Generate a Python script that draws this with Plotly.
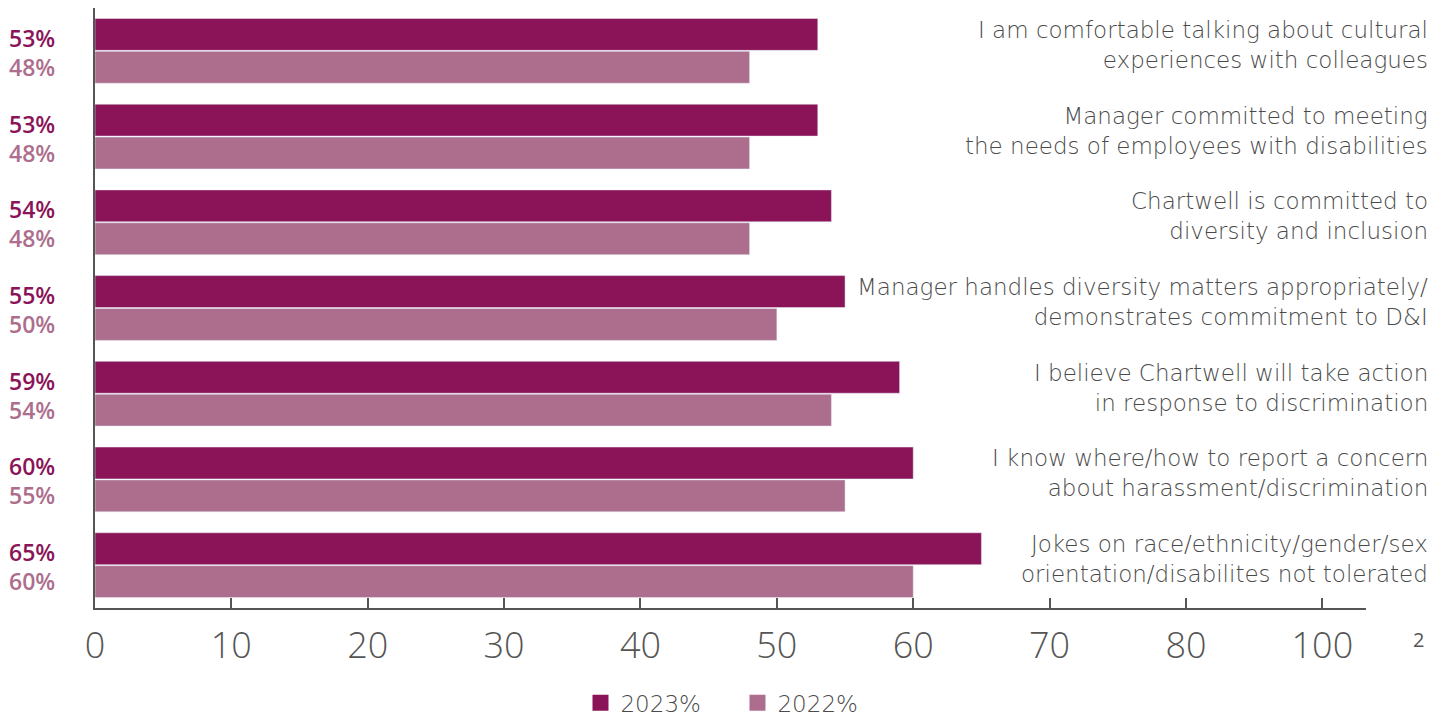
import plotly.graph_objects as go

categories = [
    "I am comfortable talking about cultural<br>experiences with colleagues",
    "Manager committed to meeting<br>the needs of employees with disabilities",
    "Chartwell is committed to<br>diversity and inclusion",
    "Manager handles diversity matters appropriately/<br>demonstrates commitment to D&I",
    "I believe Chartwell will take action<br>in response to discrimination",
    "I know where/how to report a concern<br>about harassment/discrimination",
    "Jokes on race/ethnicity/gender/sex<br>orientation/disabilites not tolerated",
]
v2023 = [53, 53, 54, 55, 59, 60, 65]
v2022 = [48, 48, 48, 50, 54, 55, 60]
tick_vals = [0, 10, 20, 30, 40, 50, 60, 70, 80, 90]
tick_text = ["0", "10", "20", "30", "40", "50", "60", "70", "80", "100"]
series_names = ["2023%", "2022%"]

C23 = "#8B1459"
C22 = "#AD6E8D"
GRAY = "#555555"
TXT = "#4a4a4a"
FONT = "Open Sans"
LFONT = "DejaVu Sans"

fig = go.Figure()
fig.add_trace(go.Bar(y=categories, x=v2023, orientation="h", marker_color=C23,
                     name=series_names[0], showlegend=False, hoverinfo="x"))
fig.add_trace(go.Bar(y=categories, x=v2022, orientation="h", marker_color=C22,
                     name=series_names[1], showlegend=False, hoverinfo="x"))
# legend entries
for nm, col in zip(series_names, [C23, C22]):
    fig.add_trace(go.Scatter(x=[None], y=[None], mode="markers", name=nm,
                             marker=dict(symbol="square", size=20, color=col)))

ann = []
for cat, a, b in zip(categories, v2023, v2022):
    ann.append(dict(xref="paper", yref="y", x=1.0505, y=cat, text=cat, showarrow=False,
                    xanchor="right", yanchor="middle", align="right", yshift=6,
                    font=dict(family=LFONT, size=23, color=TXT, weight=300)))
    ann.append(dict(xref="paper", yref="y", x=-0.069, y=cat, text=f"{a}%", showarrow=False,
                    xanchor="left", yanchor="middle", yshift=13,
                    font=dict(family=FONT, size=23, color=C23, weight=600)))
    ann.append(dict(xref="paper", yref="y", x=-0.069, y=cat, text=f"{b}%", showarrow=False,
                    xanchor="left", yanchor="middle", yshift=-16,
                    font=dict(family=FONT, size=23, color=C22, weight=600)))
ann.append(dict(xref="paper", yref="paper", x=1.041, y=-0.053, text="2", showarrow=False,
                xanchor="center", yanchor="middle",
                font=dict(family=FONT, size=20, color=GRAY)))

fig.update_layout(
    width=1437, height=709,
    margin=dict(l=87, r=79, t=0, b=109, autoexpand=False),
    paper_bgcolor="white", plot_bgcolor="white",
    barmode="group", bargap=0.233, bargroupgap=0.03,
    font=dict(family=FONT, color=GRAY),
    annotations=ann,
    showlegend=True,
    legend=dict(orientation="h", x=0.5055, xanchor="center", y=-0.158, yanchor="middle",
                font=dict(family=LFONT, size=23, color=TXT, weight=300), itemsizing="trace",
                itemwidth=30, entrywidth=112, traceorder="normal"),
    xaxis=dict(range=[0, 93.2], tickvals=tick_vals, ticktext=tick_text,
               ticks="inside", ticklen=10, tickwidth=2, tickcolor=GRAY,
               showline=True, linecolor=GRAY, linewidth=2, showgrid=False, zeroline=False,
               automargin=False, ticklabelstandoff=5,
               tickfont=dict(family=FONT, size=36, color=GRAY, weight=300)),
    yaxis=dict(autorange="reversed", showticklabels=False, ticks="", showgrid=False,
               showline=True, linecolor=GRAY, linewidth=2, zeroline=False, automargin=False),
)

fig.write_html("out.html")
